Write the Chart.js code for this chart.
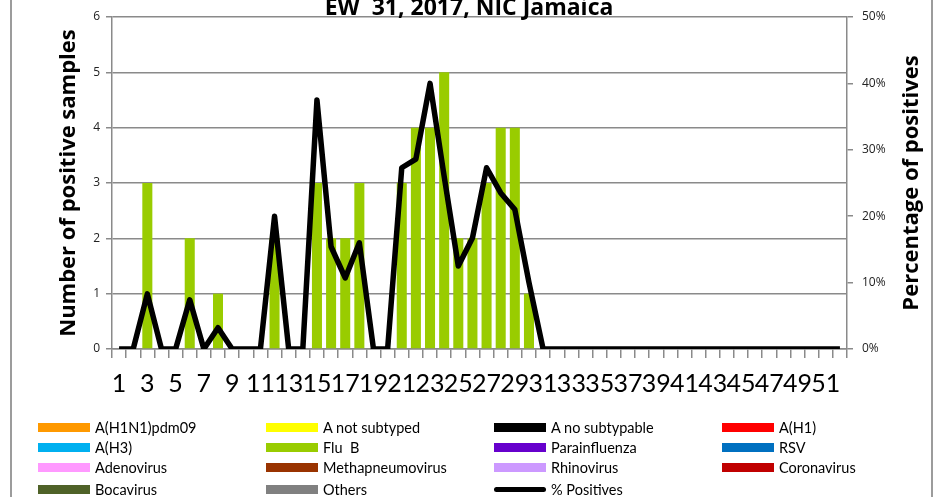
<!DOCTYPE html>
<html>
<head>
<meta charset="utf-8">
<script src="https://cdn.jsdelivr.net/npm/chart.js@4.4.0/dist/chart.umd.min.js"></script>
<style>
	body { margin: 0; background: #fff; }
	#wrap { position: relative; width: 940px; height: 497px; overflow: hidden; }
	#frame { position: absolute; left: 10px; top: -10px; width: 919px; height: 520px; border-left: 2px solid #9c9c9c; border-right: 2px solid #9c9c9c; }
	#legend { position: absolute; left: 0; top: 0; width: 940px; height: 497px; font-family: Lato, sans-serif; font-size: 14.5px; color: #000; pointer-events: none; }
	.item { position: absolute; height: 18px; display: flex; align-items: center; white-space: nowrap; }
	.swatch { width: 52px; height: 9px; margin-right: 5px; }
	.swatch.line { height: 5px; border-radius: 3px; }
</style>
</head>
<body>
<div id="wrap">
	<canvas id="chart" width="940" height="497"></canvas>
	<div id="frame"></div>
	<div id="legend"></div>
</div>
<script>
// Epidemiological weeks
const weeks = ['1','2','3','4','5','6','7','8','9','10','11','12','13','14','15','16','17','18','19','20','21','22','23','24','25','26','27','28','29','30','31','32','33','34','35','36','37','38','39','40','41','42','43','44','45','46','47','48','49','50','51','52'];

// Flu B positive samples per week (other viruses had none)
const fluB = [0,0,3,0,0,2,0,1,0,0,0,2,0,0,3,2,2,3,0,0,3,4,4,5,2,2,3,4,4,1,0,0,0,0,0,0,0,0,0,0,0,0,0,0,0,0,0,0,0,0,0,0];

// Percentage of positive samples per week
const pctPositives = [0,0,8.3,0,0,7.4,0,3.2,0,0,0,20,0,0,37.5,15.4,10.7,16,0,0,27.3,28.6,40,26,12.5,16.7,27.3,23.5,21,10,0,0,0,0,0,0,0,0,0,0,0,0,0,0,0,0,0,0,0,0,0,0];

// Virus series, in legend order: [label, colour, data]
const virusSeries = [
	['A(H1N1)pdm09',     '#ff9900', []],
	['A not subtyped',   '#ffff00', []],
	['A no subtypable',  '#000000', []],
	['A(H1)',            '#ff0000', []],
	['A(H3)',            '#00b0f0', []],
	['Flu  B',           '#99cc00', fluB],
	['Parainfluenza',    '#6600cc', []],
	['RSV',              '#0070c0', []],
	['Adenovirus',       '#ff99ff', []],
	['Methapneumovirus', '#993300', []],
	['Rhinovirus',       '#cc99ff', []],
	['Coronavirus',      '#c00000', []],
	['Bocavirus',        '#4f6228', []],
	['Others',           '#808080', []]
];

const chartTitle = 'EW  31, 2017, NIC Jamaica';
const leftTitle = 'Number of positive samples';
const rightTitle = 'Percentage of positives';
const leftTicks = [0, 1, 2, 3, 4, 5, 6];
const rightTicks = ['0%', '10%', '20%', '30%', '40%', '50%'];

// Assemble the datasets
const datasets = virusSeries.map(series => ({
	type: 'bar',
	label: series[0],
	data: series[2],
	backgroundColor: series[1],
	borderWidth: 0,
	barPercentage: 0.71,
	categoryPercentage: 1,
	yAxisID: 'y',
	order: 1
}));
datasets.push({
	type: 'line',
	label: '% Positives',
	data: pctPositives,
	borderColor: '#000000',
	backgroundColor: '#000000',
	borderWidth: 5.5,
	borderJoinStyle: 'round',
	pointRadius: 0,
	tension: 0,
	yAxisID: 'y1',
	order: 0
});

// Chart title (partly clipped at the top like the original) and right axis title reading upwards
const extraTexts = {
	id: 'extraTexts',
	afterDraw (chart) {
		const ctx = chart.ctx;
		ctx.save();
		ctx.fillStyle = '#000';
		ctx.textAlign = 'center';
		ctx.font = 'bold 23px "Open Sans"';
		ctx.textBaseline = 'alphabetic';
		ctx.fillText(chartTitle, 469, 15);
		
		// Right axis title
		const area = chart.chartArea;
		ctx.translate(912, (area.top + area.bottom) / 2);
		ctx.rotate(-Math.PI / 2);
		ctx.font = 'bold 22px "Open Sans"';
		ctx.textBaseline = 'middle';
		ctx.fillText(rightTitle, 0, 0);
		ctx.restore();
	}
};

const gridGrey = '#8a8a8a';

const chart = new Chart(document.getElementById('chart').getContext('2d'), {
	data: {
		labels: weeks,
		datasets: datasets
	},
	options: {
		responsive: false,
		animation: false,
		layout: { padding: { top: 17, left: 0, right: 0, bottom: 0 } },
		plugins: {
			legend: { display: false },
			tooltip: { enabled: false },
			title: { display: false }
		},
		scales: {
			x: {
				stacked: true,
				offset: true,
				grid: { offset: true, drawOnChartArea: false, tickLength: 9, color: gridGrey, lineWidth: 1.5 },
				border: { color: gridGrey, width: 1.5 },
				ticks: {
					autoSkip: false,
					maxRotation: 0,
					minRotation: 0,
					padding: 11,
					color: '#000',
					font: { family: 'Lato', size: 25 },
					callback: function (value, index) {
						return (index % 2 === 0 ? this.getLabelForValue(value) : '');
					}
				},
				afterFit: scale => { scale.height = 148; }
			},
			y: {
				stacked: true,
				position: 'left',
				min: leftTicks[0],
				max: leftTicks[leftTicks.length - 1],
				ticks: { stepSize: 1, padding: 6, color: '#222', font: { family: 'Open Sans', size: 12 } },
				grid: { color: gridGrey, lineWidth: 1.5, tickLength: 6 },
				border: { color: gridGrey, width: 1.5 },
				title: {
					display: true,
					text: leftTitle,
					color: '#000',
					font: { family: 'Open Sans', size: 22, weight: 'bold' },
					padding: { top: 56, bottom: 0 }
				},
				afterFit: scale => { scale.width = 112; }
			},
			y1: {
				position: 'right',
				min: 0,
				max: 50,
				ticks: {
					stepSize: 10,
					padding: 9,
					color: '#222',
					font: { family: 'Open Sans', size: 12 },
					callback: (value, index) => rightTicks[index]
				},
				grid: { drawOnChartArea: false, color: gridGrey, lineWidth: 1.5, tickLength: 6 },
				border: { color: gridGrey, width: 1.5 },
				afterFit: scale => { scale.width = 93; }
			}
		}
	},
	plugins: [extraTexts]
});

// Build the legend as a 4-column grid from the chart's datasets
function buildLegend (chart)
{
	const rowCentres = [427, 447.5, 467.5, 489];
	const html = chart.data.datasets.map((ds, i) => {
		const col = i % 4;
		const row = Math.floor(i / 4);
		const isLine = (ds.type === 'line');
		const colour = isLine ? ds.borderColor : ds.backgroundColor;
		return '<div class="item" style="left:' + (38 + col * 228) + 'px;top:' + (rowCentres[row] - 9) + 'px">' +
			'<span class="swatch' + (isLine ? ' line' : '') + '" style="background:' + colour + '"></span>' +
			'<span>' + ds.label.replace(/  /g, ' &nbsp;') + '</span></div>';
	});
	document.getElementById('legend').innerHTML = html.join('');
}
buildLegend(chart);
</script>
</body>
</html>
